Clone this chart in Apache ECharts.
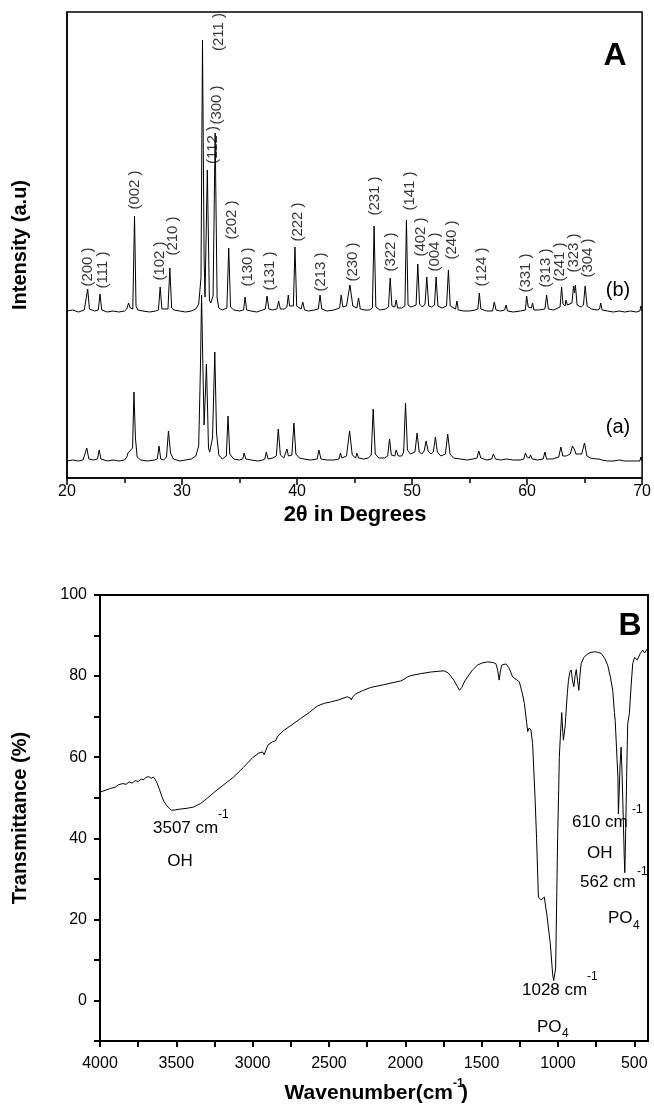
<!DOCTYPE html>
<html><head><meta charset="utf-8">
<script src="https://cdn.jsdelivr.net/npm/echarts@6/dist/echarts.min.js"></script>
<style>html,body{margin:0;padding:0;background:#fff}#c{width:654px;height:1109px}</style>
</head><body><div id="c"></div>
<script>
// ---- XRD pattern (b) : [2theta, intensity a.u.]
const xrdB = [
[20.0,167],[20.5,168],[21.0,166],[21.5,168],[21.65,168],[21.8,189],[21.95,169],[22.4,167],
[22.72,168],[22.87,184],[23.02,168],[23.5,166],[24.0,167],[24.5,166],[25.0,167],
[25.2,169],[25.35,175],[25.5,170],[25.72,169],[25.87,262],[26.0,172],[26.15,168],
[26.6,167],[27.2,166],[27.7,167],[27.95,168],[28.1,191],[28.25,169],
[28.78,169],[28.94,210],[29.1,170],[29.3,168],[29.8,167],[30.3,166],[30.8,167],[31.2,169],[31.45,174],
[31.65,200],[31.78,438],[31.92,220],[32.0,181],[32.2,308],[32.38,178],[32.5,175],
[32.7,182],[32.88,345],[33.05,180],[33.2,170],[33.5,168],[33.9,170],[34.06,230],[34.22,171],[34.5,168],
[35.0,167],[35.35,168],[35.48,181],[35.62,168],[36.0,167],[36.5,166],[37.0,168],
[37.25,169],[37.39,182],[37.55,169],[37.9,168],[38.25,169],[38.4,177],[38.55,169],[38.9,169],
[39.12,171],[39.24,183],[39.35,172],[39.68,172],[39.82,231],[39.97,172],[40.35,169],[40.5,176],[40.65,168],
[41.0,167],[41.5,168],[41.85,169],[42.0,183],[42.15,169],[42.6,167],[43.2,168],
[43.7,170],[43.84,183],[43.98,171],[44.3,172],[44.6,193],[44.85,172],[45.2,170],[45.35,180],[45.5,169],
[45.9,168],[46.3,168],[46.55,170],[46.7,252],[46.85,171],[47.2,168],[47.7,169],
[47.95,171],[48.1,200],[48.25,172],[48.5,171],[48.62,178],[48.75,170],[49.1,170],
[49.38,172],[49.51,258],[49.65,173],[49.9,171],[50.35,173],[50.5,214],[50.65,174],[50.9,171],
[51.13,174],[51.28,201],[51.45,172],[51.7,171],[51.95,173],[52.09,201],[52.25,172],[52.6,170],
[53.0,172],[53.16,208],[53.32,172],[53.78,169],[53.9,177],[54.02,168],[54.5,167],[55.0,167],[55.5,168],
[55.72,169],[55.85,185],[55.98,169],[56.5,167],[57.0,167],[57.15,176],[57.3,168],[57.7,167],
[58.05,168],[58.17,173],[58.3,167],[58.8,166],[59.4,167],[59.85,168],[59.96,182],[60.1,171],
[60.38,170],[60.48,175],[60.6,168],[61.0,168],[61.55,169],[61.7,183],[61.85,169],[62.3,168],
[62.87,171],[63.0,191],[63.12,174],[63.3,172],[63.38,178],[63.5,173],[63.9,175],[64.04,192],[64.12,185],[64.2,193],[64.35,173],
[64.7,171],[64.9,173],[65.05,192],[65.22,172],[65.6,169],[66.1,168],[66.3,169],[66.4,175],[66.52,168],
[67.0,167],[67.5,166],[68.0,167],[68.5,166],[69.0,167],[69.5,166],[69.8,167],[69.9,172],[70.0,167]
];
// ---- XRD pattern (a)
const xrdA = [
[20.0,17],[20.5,18],[21.0,17],[21.4,18],[21.55,19],[21.72,30],[21.9,19],[22.3,18],
[22.65,19],[22.8,28],[22.95,19],[23.5,17],[24.0,18],[24.5,17],[25.0,18],
[25.2,21],[25.3,25],[25.45,24],[25.7,30],[25.82,86],[25.95,40],[26.1,21],[26.4,18],
[27.0,17],[27.6,18],[27.85,19],[28.0,32],[28.15,19],[28.4,18],
[28.65,21],[28.82,47],[29.0,25],[29.25,19],[29.8,17],[30.3,18],[30.8,19],[31.2,22],[31.45,32],
[31.6,110],[31.7,183],[31.8,120],[31.92,53],[32.05,90],[32.12,114],[32.2,80],[32.3,30],[32.41,26],
[32.65,40],[32.85,126],[33.0,45],[33.2,23],[33.5,19],[33.85,22],[34.0,62],[34.15,24],[34.5,19],
[35.0,18],[35.28,19],[35.4,25],[35.55,19],[36.0,18],[36.6,17],[37.0,18],
[37.2,19],[37.33,26],[37.48,19],[37.9,20],[38.2,22],[38.37,49],[38.55,23],[38.85,20],
[39.0,21],[39.12,29],[39.25,22],[39.55,23],[39.73,55],[39.9,24],[40.2,20],[40.6,19],[41.2,18],
[41.75,19],[41.9,28],[42.08,19],[42.6,18],[43.2,18],[43.65,19],[43.77,25],[43.9,20],
[44.3,22],[44.57,47],[44.8,23],[45.1,20],[45.2,25],[45.35,20],[45.8,19],[46.2,20],
[46.45,23],[46.62,69],[46.8,24],[47.1,20],[47.6,20],[47.88,22],[48.04,39],[48.2,23],
[48.5,22],[48.62,28],[48.8,22],[49.1,22],[49.27,26],[49.43,75],[49.6,28],[49.85,24],
[50.25,26],[50.44,45],[50.62,26],[50.85,24],[51.05,27],[51.22,37],[51.4,27],[51.65,24],
[51.85,26],[52.03,41],[52.2,26],[52.5,22],[52.9,24],[53.1,44],[53.3,24],[53.6,20],
[54.2,19],[54.8,18],[55.3,19],[55.65,20],[55.8,27],[55.98,20],[56.5,18],
[56.92,19],[57.07,24],[57.25,19],[57.7,18],[58.2,19],[58.8,18],[59.4,18],
[59.72,19],[59.85,25],[60.0,21],[60.2,20],[60.3,23],[60.45,19],[60.9,18],
[61.4,19],[61.55,26],[61.7,19],[62.2,19],[62.75,21],[62.94,31],[63.1,22],[63.4,22],
[63.75,24],[63.95,32],[64.1,29],[64.25,24],[64.75,24],[64.99,35],[65.2,22],[65.5,20],
[66.0,19],[66.25,19],[66.35,21],[66.5,18],[67.0,17],[67.5,17],[68.0,18],[68.5,17],[69.0,17],[69.5,17],[69.8,17],[69.9,21],[70.0,17]
];
// ---- hkl labels
const hklNames = ['(200 )','(111 )','(002 )','(102 )','(210 )','(211 )','(300 )','(112 )','(202 )','(130 )','(131 )','(222 )','(213 )','(230 )','(231 )','(322 )','(141 )','(402 )','(004 )','(240 )','(124 )','(331 )','(313 )','(241 )','(323 )','(304 )'];
const hklX = [21.85,23.15,25.9,28.07,29.23,33.22,33.0,32.65,34.3,35.74,37.62,40.03,42.11,44.85,46.74,48.19,49.77,50.73,51.94,53.45,56.08,59.9,61.64,62.88,64.1,65.25];
const hklY = [211,208,288,217,242,446,373,333,258,211,207,256,206,216,282,226,287,241,226,238,211,205,210,216,225,220];
// ---- FTIR spectrum: [wavenumber cm-1, transmittance %]
const irData = [
[4000,51.4],[3960,51.9],[3930,52.3],[3900,52.6],[3880,53.2],[3870,52.8],[3850,53.5],[3830,53.3],[3810,53.9],[3790,53.6],
[3770,54.2],[3750,54.0],[3730,54.6],[3715,54.4],[3700,55.0],[3690,54.7],[3680,55.2],[3665,54.8],[3650,55.1],[3640,54.6],
[3628,53.8],[3610,52.0],[3595,50.3],[3580,49.0],[3562,48.0],[3545,47.3],[3530,46.9],[3507,47.0],[3475,47.2],[3430,47.4],
[3387,47.7],[3340,48.6],[3300,49.8],[3250,51.4],[3200,52.9],[3125,55.1],[3060,57.5],[3000,59.9],[2960,61.0],[2935,61.3],
[2925,60.6],[2915,61.0],[2900,63.0],[2870,63.8],[2851,64.0],[2835,65.2],[2800,66.5],[2750,67.8],[2687,69.5],[2630,71.0],
[2577,72.6],[2530,73.3],[2490,73.6],[2440,74.1],[2380,74.9],[2360,74.6],[2354,74.1],[2345,74.8],[2326,75.6],[2280,76.4],
[2227,77.2],[2150,77.8],[2080,78.4],[2030,78.8],[2009,79.2],[1985,79.8],[1965,80.1],[1900,80.6],[1833,81.0],[1780,81.2],
[1746,81.3],[1720,80.8],[1702,80.0],[1680,78.9],[1660,77.5],[1645,76.5],[1630,77.2],[1610,78.8],[1592,79.8],[1560,81.5],
[1527,82.7],[1500,83.2],[1461,83.5],[1430,83.4],[1407,83.1],[1395,81.5],[1385,79.0],[1378,81.0],[1369,82.7],[1341,83.0],
[1320,82.0],[1297,79.8],[1275,79.2],[1253,78.6],[1235,76.0],[1220,73.3],[1205,68.5],[1198,66.3],[1188,67.2],[1177,66.7],
[1166,63.4],[1150,50.0],[1140,40.0],[1128,25.5],[1110,24.8],[1100,24.7],[1089,25.5],[1080,23.0],[1072,21.0],[1063,21.4],
[1050,14.0],[1035,6.6],[1028,4.9],[1015,8.0],[1008,25.0],[1002,40.0],[995,52.0],[991,60.0],[983,66.0],[975,71.0],
[968,66.0],[964,64.2],[958,63.8],[952,68.0],[946,71.6],[938,76.0],[931,79.0],[922,81.0],[913,81.5],[905,79.0],
[896,77.4],[888,80.0],[880,81.6],[872,79.0],[863,76.5],[856,80.0],[848,83.1],[830,84.6],[815,85.2],[790,85.8],
[761,86.0],[740,85.9],[717,85.6],[695,84.5],[674,82.7],[655,79.5],[641,76.5],[630,71.0],[625,69.1],[612,68.7],
[607,55.0],[604,46.0],[600,50.0],[593,58.0],[586,62.5],[580,56.0],[572,45.0],[566,36.0],[562,31.5],[557,40.0],
[550,55.0],[543,68.3],[532,70.8],[520,78.0],[510,83.1],[498,84.6],[488,84.8],[480,84.0],[473,84.0],[462,85.5],
[444,86.4],[432,85.7],[422,86.0],[414,86.8]
];
const irLabelTicks = [500,1000,1500,2000,2500,3000,3500,4000];
const irMinorTicks = [500,750,1000,1250,1500,1750,2000,2250,2500,2750,3000,3250,3500,3750,4000];

const FF = '"Liberation Sans", Arial, sans-serif';
const chart = echarts.init(document.getElementById('c'), null, {renderer:'canvas'});
const blk = '#000';
function txt(x, y, text, size, opts) {
  return Object.assign({type:'text', x:x, y:y, style:Object.assign({text:text, fill:blk, font:(opts&&opts.bold?'bold ':'')+size+'px '+FF, textAlign:'left', textVerticalAlign:'middle'}, (opts&&opts.style)||{})}, (opts&&opts.el)||{});
}
const option = {
  animation:false,
  backgroundColor:'#fff',
  grid:[
    {left:67, top:12, width:576, height:466, show:true, borderColor:blk, borderWidth:1.5, backgroundColor:'transparent'},
    {left:100, top:595, width:548, height:446, show:true, borderColor:blk, borderWidth:2, backgroundColor:'transparent'}
  ],
  xAxis:[
    {gridIndex:0, type:'value', min:20, max:70, interval:10,
     axisLine:{onZero:false, lineStyle:{color:blk, width:1.5}},
     axisTick:{length:7, lineStyle:{color:blk, width:1.5}},
     minorTick:{show:true, splitNumber:2, length:5, lineStyle:{color:blk, width:1.5}},
     axisLabel:{color:blk, fontSize:16, fontFamily:FF, margin:6, showMinLabel:true, showMaxLabel:true},
     splitLine:{show:false}},
    {gridIndex:1, type:'value', inverse:true, min:410, max:4000,
     axisLine:{onZero:false, lineStyle:{color:blk, width:2}},
     axisTick:{length:6, customValues:irMinorTicks, lineStyle:{color:blk, width:2}},
     axisLabel:{color:blk, fontSize:16, fontFamily:FF, margin:15, customValues:irLabelTicks, formatter:v => String(v)},
     splitLine:{show:false}}
  ],
  yAxis:[
    {gridIndex:0, type:'value', min:0, max:466,
     axisLine:{show:true, onZero:false, lineStyle:{color:blk, width:1.5}}, axisTick:{show:false}, axisLabel:{show:false}, splitLine:{show:false}},
    {gridIndex:1, type:'value', min:-10, max:100, interval:10,
     axisLine:{show:true, onZero:false, lineStyle:{color:blk, width:2}},
     axisTick:{length:6, lineStyle:{color:blk, width:2}},
     axisLabel:{color:blk, fontSize:16, fontFamily:FF, margin:13, formatter:v => (v % 20 === 0 ? String(v) : '')},
     splitLine:{show:false}}
  ],
  series:[
    {type:'line', xAxisIndex:0, yAxisIndex:0, data:xrdB, showSymbol:false, symbol:'none', lineStyle:{color:blk, width:1}, z:3},
    {type:'line', xAxisIndex:0, yAxisIndex:0, data:xrdA, showSymbol:false, symbol:'none', lineStyle:{color:blk, width:1}, z:3},
    {type:'scatter', xAxisIndex:0, yAxisIndex:0, symbolSize:1, itemStyle:{color:'transparent'},
     data:hklNames.map((n,i)=>({name:n, value:[hklX[i], hklY[i]]})),
     label:{show:true, formatter:'{b}', rotate:90, position:'inside', align:'center', verticalAlign:'middle', color:blk, fontSize:15, fontFamily:FF}, z:4},
    {type:'line', xAxisIndex:1, yAxisIndex:1, data:irData, showSymbol:false, symbol:'none', lineStyle:{color:blk, width:1}, z:3}
  ],
  graphic:[
    txt(20, 245, 'Intensity (a.u)', 20, {bold:true, style:{textAlign:'center'}, el:{rotation:Math.PI/2}}),
    txt(355, 515, '2θ in Degrees', 22, {bold:true, style:{textAlign:'center'}}),
    txt(618, 290, '(b)', 20, {style:{textAlign:'center'}}),
    txt(618, 427, '(a)', 20, {style:{textAlign:'center'}}),
    txt(615, 56, 'A', 32, {bold:true, style:{textAlign:'center'}}),
    txt(630, 626, 'B', 32, {bold:true, style:{textAlign:'center'}}),
    txt(20, 818, 'Transmittance (%)', 20, {bold:true, style:{textAlign:'center'}, el:{rotation:Math.PI/2}}),
    txt(453, 1093, 'Wavenumber(cm', 21, {bold:true, style:{textAlign:'right'}}),
    txt(453, 1084, '-1', 12, {bold:true}),
    txt(461, 1093, ')', 21, {bold:true}),
    txt(153, 828, '3507 cm', 17),
    txt(218, 815, '-1', 12),
    txt(180, 861, 'OH', 17, {style:{textAlign:'center'}}),
    txt(522, 990, '1028 cm', 17),
    txt(587, 977, '-1', 12),
    txt(537, 1027, 'PO', 17),
    txt(562, 1034, '4', 12),
    txt(572, 822, '610 cm', 17),
    txt(632, 810, '-1', 12),
    txt(587, 853, 'OH', 17),
    txt(580, 882, '562 cm', 17),
    txt(637, 872, '-1', 12),
    txt(608, 918, 'PO', 17),
    txt(633, 926, '4', 12)
  ]
};
chart.setOption(option);
</script></body></html>
